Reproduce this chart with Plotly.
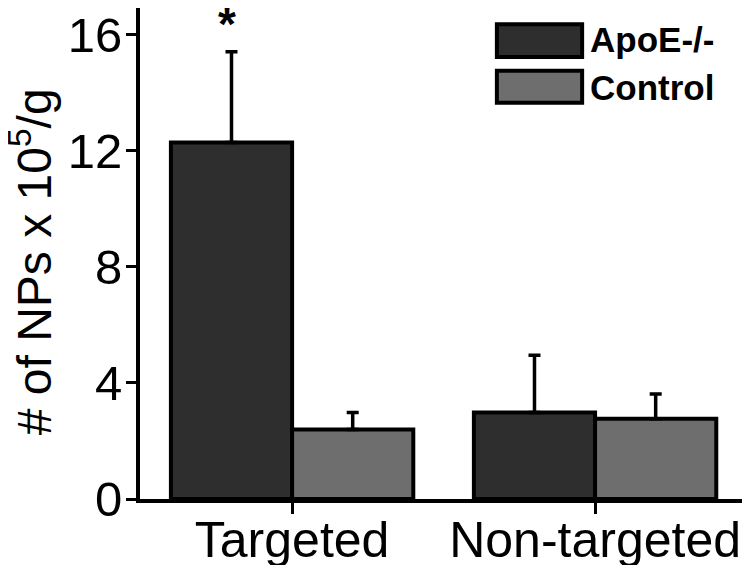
import plotly.graph_objects as go

categories = ["Targeted", "Non-targeted"]
apoe_values = [12.29, 2.98]
apoe_errors = [3.13, 1.98]
control_values = [2.40, 2.77]
control_errors = [0.58, 0.85]
series_names = ["ApoE-/-", "Control"]
y_ticks = [0, 4, 8, 12, 16]

colors = ["#2e2e2e", "#6e6e6e"]
FONT = "Liberation Sans, Arial, sans-serif"
x_pos = list(range(len(categories)))

fig = go.Figure()
for name, vals, errs, col in zip(series_names, [apoe_values, control_values],
                                 [apoe_errors, control_errors], colors):
    fig.add_trace(go.Bar(
        x=x_pos, y=vals, name=name,
        marker=dict(color=col, line=dict(color="black", width=4)),
        error_y=dict(type="data", symmetric=False, array=errs,
                     arrayminus=[0] * len(errs), color="black",
                     thickness=3.5, width=6),
        showlegend=False,
    ))

# significance star above Targeted ApoE bar
fig.add_annotation(x=x_pos[0] - 0.2, y=apoe_values[0] + apoe_errors[0],
                   text="<b>*</b>", showarrow=False, yshift=28,
                   xshift=-5,
                   font=dict(family=FONT, size=46, color="black"))

# custom legend
legend_rows = [(0.967, 0.900, 0.935), (0.872, 0.807, 0.839)]
for (y1, y0, yc), name, col in zip(legend_rows, series_names, colors):
    fig.add_shape(type="rect", xref="paper", yref="paper",
                  x0=0.586, x1=0.726, y0=y0, y1=y1,
                  fillcolor=col, line=dict(color="black", width=4))
    fig.add_annotation(xref="paper", yref="paper", x=0.736, y=yc,
                       xanchor="left", yanchor="middle", showarrow=False,
                       text=f"<b>{name}</b>",
                       font=dict(family=FONT, size=35, color="black"))

# y-axis title
fig.add_annotation(xref="paper", yref="paper", x=-0.180, y=0.483,
                   xanchor="center", yanchor="middle", textangle=-90,
                   showarrow=False,
                   text="# of NPs x 10<sup>5</sup>/g",
                   font=dict(family=FONT, size=48, color="black"))

fig.update_layout(
    width=750, height=565,
    margin=dict(l=132, r=9, t=0, b=74),
    paper_bgcolor="white", plot_bgcolor="white",
    barmode="group", bargap=0.2, bargroupgap=0,
    font=dict(family=FONT, color="black"),
)
fig.update_xaxes(
    range=[-0.502, 1.508], tickvals=x_pos, ticktext=categories,
    showline=True, linewidth=4, linecolor="black",
    ticks="outside", ticklen=11, tickwidth=3, tickcolor="black",
    tickfont=dict(family=FONT, size=50, color="black"),
    showgrid=False, zeroline=False, automargin=False,
    ticklabelstandoff=-17,
)
fig.update_yaxes(
    range=[0, 16.93], tickvals=y_ticks,
    showline=True, linewidth=4, linecolor="black",
    ticks="outside", ticklen=10, tickwidth=3, tickcolor="black",
    tickfont=dict(family=FONT, size=49, color="black"),
    showgrid=False, zeroline=False, automargin=False,
    ticklabelstandoff=-6,
)

fig.write_html("out.html")
